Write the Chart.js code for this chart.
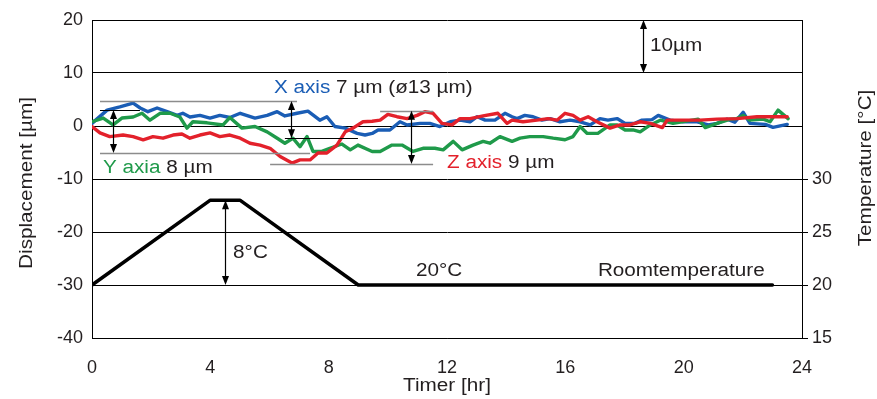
<!DOCTYPE html>
<html>
<head>
<meta charset="utf-8">
<script src="https://cdn.jsdelivr.net/npm/chart.js@4"></script>
<style>
  html, body { margin: 0; padding: 0; background: #fff; }
</style>
</head>
<body>
<canvas id="chart" width="877" height="399"></canvas>
<script>
// X axis displacement (blue)
const xAxisHr = [0,0.51,0.94,1.39,1.63,1.89,2.20,2.54,2.88,3.07,3.31,3.65,3.99,4.32,4.66,
  5.01,5.51,5.92,6.26,6.52,6.93,7.30,7.70,7.94,8.21,8.56,8.96,9.23,9.47,
  9.67,10.07,10.41,10.65,11.09,11.42,11.76,12.11,12.44,12.78,13.02,13.29,13.62,13.96,14.20,
  14.37,14.63,14.91,15.21,15.49,15.82,16.16,16.50,16.84,17.17,17.44,17.75,18.02,18.35,18.59,18.93,
  19.14,19.54,19.98,20.46,20.83,21.13,21.47,21.73,22.01,22.24,22.76,23.02,23.50];
const xAxisUm = [0.5,3,3.6,4.3,3.4,2.7,3.4,2.7,2,2.4,1.7,2,1.5,2,1.6,
  2.4,1.5,2,2.7,1.9,2.4,2.8,1.1,1.75,-0.1,-0.4,-1.4,-1.7,-1.4,
  -0.75,-0.75,0.8,0.2,0.5,0.5,-0.1,0.8,1.1,0.8,1.75,1.1,1.1,2.4,1.75,
  1.4,2,1.75,1.1,1.4,0.8,1.1,0.8,0.2,1.4,1.1,1.4,0.5,0.5,1.1,1.2,
  2,1.1,0.8,0.8,0.2,0.5,1.3,0.7,2.6,0.5,0.3,-0.25,0.3];

// Y axis displacement (green)
const yAxisHr = [0,0.38,0.71,1.01,1.39,1.69,1.96,2.30,2.64,2.97,3.21,3.41,3.89,4.43,4.66,
  5.07,5.51,5.92,6.26,6.52,6.79,7.03,7.27,7.47,7.77,8.04,8.45,8.73,8.99,9.47,
  9.74,10.14,10.48,10.85,11.19,11.59,11.87,12.21,12.51,12.88,13.22,13.45,13.79,14.20,
  14.47,14.80,15.25,15.59,15.99,16.26,16.50,16.74,17.10,17.51,17.75,18.02,18.29,18.53,18.87,
  19.21,19.64,20.49,20.73,21.13,21.58,21.80,22.01,22.24,22.69,22.92,23.19,23.53];
const yAxisUm = [0.8,1.5,0.2,1.5,1.7,2.4,1.1,2.4,2.4,1.7,-0.4,0.8,0.6,0.2,1.6,
  -0.4,-0.1,-1.1,-2.3,-3.25,-2.3,-3.9,-2,-4.8,-4.8,-4.2,-3.4,-4.5,-3.6,-4.8,
  -4.8,-3.6,-3.6,-4.8,-4.2,-4.2,-4.5,-2.9,-4.5,-3.6,-2.9,-3.25,-2,-2.9,
  -2.3,-2,-2,-2.3,-2.6,-2,-0.1,-1.4,-1.4,0.2,0.2,-0.75,-0.75,-1.1,0.2,
  1.1,0.5,1.3,-0.3,0.5,1.3,1.4,2,1.1,1.3,0.8,3,1.4];

// Z axis displacement (red)
const zAxisHr = [0,0.27,0.60,1.05,1.39,1.73,2.06,2.40,2.74,3.04,3.31,3.65,3.99,4.32,4.66,
  5.01,5.34,5.68,6.02,6.36,6.76,7.03,7.37,7.64,7.94,8.28,8.56,8.82,9.16,9.47,
  9.74,10.00,10.31,10.65,10.99,11.25,11.53,11.83,12.17,12.44,12.78,13.22,13.72,14.03,14.20,
  14.57,15.04,15.42,15.72,15.99,16.26,16.50,16.77,17.07,17.51,17.85,18.18,18.53,18.87,
  19.28,19.44,19.98,20.55,21.13,21.80,22.48,22.92,23.50];
const zAxisUm = [-0.1,-1.3,-2,-1.7,-2,-2.6,-2,-2.3,-1.7,-1.5,-2.3,-1.7,-1.3,-2,-1.7,
  -2.3,-3.25,-3.6,-4.2,-5.75,-7,-6.4,-6.4,-5.1,-5.1,-3.6,-1.1,-0.4,0.8,0.9,
  1.1,2.2,1.75,1.4,2,2.7,2.4,0.5,0.2,1.4,1.4,1.9,2.4,0.5,1.1,
  0.8,1.1,1.4,1.1,2.4,2,1.1,1.75,0.8,-0.4,0.2,0.2,0.8,0.5,
  -0.3,1.1,1.1,1.1,1.3,1.4,1.75,1.75,1.75];

// temperature profile
const tempHr = [0, 4, 5, 9, 23];
const tempC = [20, 28, 28, 20, 20];

// tick labels
const timeTicks = [0, 4, 8, 12, 16, 20, 24];
const dispTicks = [-40, -30, -20, -10, 0, 10, 20];
const tempTicks = [15, 20, 25, 30];

const FONT = '"Liberation Sans", Arial, Helvetica, sans-serif';
const INK = '#231f20';
const BLUE = '#1a5db5', GREEN = '#1f9a4a', RED = '#e3212b';
const STRETCH = 1.15; // reference lettering is a bit wider than Liberation Sans

const toPts = (hr, v) => hr.map((h, i) => ({ x: h, y: v[i] }));

// annotation marks (data units)
const guides = [
  { x0: 0.27, x1: 6.93, y: 4.7, color: '#8c8c8c', w: 1.6 },
  { x0: 0.27, x1: 1.62, y: 3.0, color: '#000', w: 1 },
  { x0: 0.27, x1: 7.37, y: -5.1, color: '#8c8c8c', w: 1.6 },
  { x0: 6.52, x1: 8.99, y: -2.3, color: '#000', w: 1 },
  { x0: 9.74, x1: 11.53, y: 2.9, color: '#8c8c8c', w: 1.6 },
  { x0: 6.02, x1: 11.53, y: -7.15, color: '#8c8c8c', w: 1.6 }
];
const arrows = [
  { x: 0.71, y0: 3.0, y1: -5.1 },
  { x: 6.73, y0: 4.7, y1: -2.3 },
  { x: 10.78, y0: 2.9, y1: -7.15 },
  { x: 18.63, y0: 20, y1: 10 },
  { x: 4.5, y0: -14, y1: -30 }
];
const notes = [
  { x: 6.15, y: 7.2, parts: [['X axis', BLUE], [' 7 µm (ø13 µm)', INK]] },
  { x: 0.37, y: -7.9, parts: [['Y axia', GREEN], [' 8 µm', INK]] },
  { x: 12.0, y: -7.0, parts: [['Z axis', RED], [' 9 µm', INK]] },
  { x: 18.86, y: 15, parts: [['10µm', INK]] },
  { x: 4.77, y: -23.9, parts: [['8°C', INK]] },
  { x: 10.95, y: -27.3, parts: [['20°C', INK]] },
  { x: 17.1, y: -27.3, parts: [['Roomtemperature', INK]] }
];

function head(ctx, x, y, dir) {
  ctx.beginPath();
  ctx.moveTo(x, y);
  ctx.lineTo(x - 3.5, y - dir * 9);
  ctx.lineTo(x + 3.5, y - dir * 9);
  ctx.closePath();
  ctx.fill();
}

function wideText(ctx, txt, x, y, rot) {
  ctx.save();
  ctx.translate(x, y);
  if (rot) ctx.rotate(rot);
  ctx.scale(STRETCH, 1);
  ctx.fillText(txt, 0, 0);
  ctx.restore();
  return ctx.measureText(txt).width * STRETCH;
}

const overlay = {
  id: 'overlay',
  afterDatasetsDraw(chart) {
    const { ctx, scales: { x, y } } = chart;
    const px = v => x.getPixelForValue(v);
    const py = v => y.getPixelForValue(v);
    ctx.save();
    guides.forEach(g => {
      ctx.strokeStyle = g.color;
      ctx.lineWidth = g.w;
      ctx.beginPath();
      ctx.moveTo(px(g.x0), Math.round(py(g.y)) + 0.5);
      ctx.lineTo(px(g.x1), Math.round(py(g.y)) + 0.5);
      ctx.stroke();
    });
    ctx.strokeStyle = '#000';
    ctx.fillStyle = '#000';
    ctx.lineWidth = 1.2;
    arrows.forEach(a => {
      const ax = Math.round(px(a.x)) + 0.5, t = py(a.y0), b = py(a.y1);
      ctx.beginPath();
      ctx.moveTo(ax, t + 4);
      ctx.lineTo(ax, b - 4);
      ctx.stroke();
      head(ctx, ax, t, -1);
      head(ctx, ax, b, 1);
    });
    ctx.font = '18px ' + FONT;
    ctx.textBaseline = 'middle';
    notes.forEach(n => {
      let cx = px(n.x);
      const cy = py(n.y);
      n.parts.forEach(([txt, col]) => {
        ctx.fillStyle = col;
        cx += wideText(ctx, txt, cx, cy, 0);
      });
    });
    ctx.restore();
  },
  afterDraw(chart) {
    const { ctx } = chart;
    ctx.save();
    ctx.fillStyle = INK;
    ctx.font = '18px ' + FONT;
    ctx.textAlign = 'center';
    ctx.textBaseline = 'middle';
    wideText(ctx, 'Timer [hr]', 447, 386, 0);
    wideText(ctx, 'Displacement [µm]', 27, 183, -Math.PI / 2);
    wideText(ctx, 'Temperature [°C]', 866, 168, -Math.PI / 2);
    ctx.restore();
  }
};

const lineSet = (label, pts, color, axis, width) => ({
  label, data: pts, borderColor: color, backgroundColor: color,
  borderWidth: width, pointRadius: 0, tension: 0, yAxisID: axis,
  borderJoinStyle: 'round', borderCapStyle: 'round'
});

new Chart(document.getElementById('chart'), {
  type: 'line',
  data: {
    datasets: [
      lineSet('Temperature', toPts(tempHr, tempC), '#000', 'yT', 3.5),
      lineSet('Z axis', toPts(zAxisHr, zAxisUm), RED, 'y', 3.4),
      lineSet('Y axis', toPts(yAxisHr, yAxisUm), GREEN, 'y', 3.4),
      lineSet('X axis', toPts(xAxisHr, xAxisUm), BLUE, 'y', 3.4)
    ]
  },
  options: {
    responsive: false,
    animation: false,
    layout: { padding: { top: 20, left: 0, right: 0, bottom: 0 } },
    plugins: { legend: { display: false }, tooltip: { enabled: false } },
    scales: {
      x: {
        type: 'linear', min: 0, max: 24,
        afterBuildTicks: s => { s.ticks = timeTicks.map(v => ({ value: v })); },
        afterFit: s => { s.height = 61; },
        grid: { display: false },
        border: { display: true, color: '#000', width: 1 },
        ticks: { padding: 11, color: INK, font: { family: FONT, size: 18 }, maxRotation: 0 }
      },
      y: {
        position: 'left', min: -40, max: 20,
        afterBuildTicks: s => { s.ticks = dispTicks.map(v => ({ value: v })); },
        afterFit: s => { s.width = 92; },
        grid: { color: '#000', lineWidth: 1, drawTicks: false },
        border: { display: true, color: '#000', width: 1 },
        ticks: { padding: 9, color: INK, font: { family: FONT, size: 18 } }
      },
      yT: {
        position: 'right', min: 15, max: 45,
        afterBuildTicks: s => { s.ticks = tempTicks.map(v => ({ value: v })); },
        afterFit: s => { s.width = 75; },
        grid: { drawOnChartArea: false, drawTicks: true, tickLength: 6, color: '#000' },
        border: { display: true, color: '#000', width: 1 },
        ticks: { padding: 4, color: INK, font: { family: FONT, size: 18 } }
      }
    }
  },
  plugins: [overlay]
});
</script>
</body>
</html>
